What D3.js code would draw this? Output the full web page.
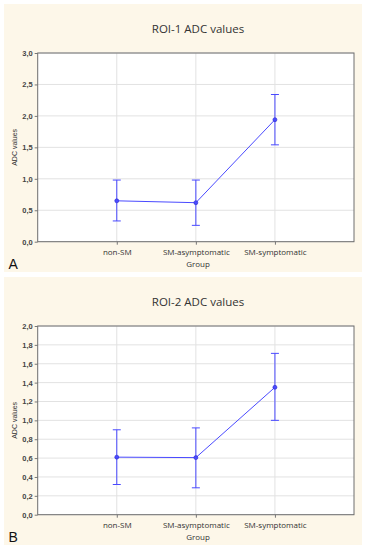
<!DOCTYPE html>
<html>
<head>
<meta charset="utf-8">
<script src="https://cdn.jsdelivr.net/npm/d3@7"></script>
<style>
  body { margin: 0; background: #fff; }
  svg { display: block; }
</style>
</head>
<body>
<div id="chart"></div>
<script>
// data
const groups = ["non-SM", "SM-asymptomatic", "SM-symptomatic"];

const roi1Mean = [0.65, 0.62, 1.94];
const roi1Upper = [0.98, 0.98, 2.34];
const roi1Lower = [0.33, 0.26, 1.54];
const roi1Ticks = [0, 0.5, 1.0, 1.5, 2.0, 2.5, 3.0];

const roi2Mean = [0.61, 0.605, 1.35];
const roi2Upper = [0.90, 0.92, 1.71];
const roi2Lower = [0.32, 0.285, 1.00];
const roi2Ticks = [0, 0.2, 0.4, 0.6, 0.8, 1.0, 1.2, 1.4, 1.6, 1.8, 2.0];

const width = 366;
const height = 550;

const svg = d3.select("#chart")
    .append("svg")
    .attr("width", width)
    .attr("height", height);

const fmt = v => d3.format(".1f")(v).replace(".", ",");
const blue = "#4a4aff";

function drawPanel(top, title, letter, mean, upper, lower, ticks) {
    const g = svg.append("g").attr("transform", `translate(0,${top})`);

    // cream background
    g.append("rect")
        .attr("x", 4).attr("y", 0)
        .attr("width", 358).attr("height", 268)
        .attr("fill", "#fdf7e9");

    const plotTop = 49, plotBottom = 237.7;
    const x = d3.scaleLinear().domain([0, 4]).range([37.7, 354]);
    const y = d3.scaleLinear().domain([0, d3.max(ticks)]).range([plotBottom, plotTop]);

    g.append("rect")
        .attr("x", 37.7).attr("y", plotTop)
        .attr("width", 354 - 37.7).attr("height", plotBottom - plotTop)
        .attr("fill", "#fff");

    // grid
    g.selectAll(".hgrid")
        .data(ticks)
        .enter().append("line")
        .attr("x1", 37.7).attr("x2", 354)
        .attr("y1", d => y(d)).attr("y2", d => y(d))
        .attr("stroke", "#e2e2e2");
    g.selectAll(".vgrid")
        .data(groups)
        .enter().append("line")
        .attr("x1", (d, i) => x(i + 1)).attr("x2", (d, i) => x(i + 1))
        .attr("y1", plotTop).attr("y2", plotBottom)
        .attr("stroke", "#e2e2e2");

    // axes
    const yAxis = d3.axisLeft(y).tickValues(ticks).tickFormat(fmt).tickSize(3).tickPadding(2);
    const ya = g.append("g").attr("transform", "translate(37.7,0)").call(yAxis);
    ya.select(".domain").remove();
    ya.selectAll("line").attr("stroke", "#777");
    ya.selectAll("text")
        .attr("fill", "#444")
        .style("font-family", "Arial, 'Liberation Sans', sans-serif")
        .style("font-size", "7.5px")
        .style("font-weight", "bold");

    const xAxis = d3.axisBottom(x).tickValues([1, 2, 3]).tickFormat(d => groups[d - 1]).tickSize(3).tickPadding(5);
    const xa = g.append("g").attr("transform", `translate(0,${plotBottom})`).call(xAxis);
    xa.select(".domain").remove();
    xa.selectAll("line").attr("stroke", "#777");
    xa.selectAll("text")
        .attr("fill", "#333")
        .style("font-family", "'Open Sans', sans-serif")
        .style("font-size", "8px");

    // plot frame
    g.append("rect")
        .attr("x", 37.7).attr("y", plotTop)
        .attr("width", 354 - 37.7).attr("height", plotBottom - plotTop)
        .attr("fill", "none")
        .attr("stroke", "#6e6e6e")
        .attr("stroke-width", 1);

    // title
    g.append("text")
        .attr("x", 198).attr("y", 29)
        .attr("text-anchor", "middle")
        .attr("fill", "#333")
        .style("font-family", "'Open Sans', sans-serif")
        .style("font-size", "11.5px")
        .text(title);

    // axis labels
    g.append("text")
        .attr("x", 198).attr("y", 263)
        .attr("text-anchor", "middle")
        .attr("fill", "#333")
        .style("font-family", "'Open Sans', sans-serif")
        .style("font-size", "8px")
        .text("Group");

    g.append("text")
        .attr("transform", `translate(16.5,${(plotTop + plotBottom) / 2}) rotate(-90)`)
        .attr("text-anchor", "middle")
        .attr("fill", "#333")
        .style("font-family", "Arial, 'Liberation Sans', sans-serif")
        .style("font-size", "7px")
        .text("ADC values");

    // panel letter
    g.append("text")
        .attr("x", 8.5).attr("y", 265)
        .attr("fill", "#111")
        .style("font-family", "Arial, 'Liberation Sans', sans-serif")
        .style("font-size", "14px")
        .text(letter);

    // error bars
    const bars = g.append("g");
    groups.forEach((grp, i) => {
        const cx = x(i + 1);
        bars.append("line")
            .attr("x1", cx).attr("x2", cx)
            .attr("y1", y(upper[i])).attr("y2", y(lower[i]))
            .attr("stroke", blue).attr("stroke-width", 1);
        [upper[i], lower[i]].forEach(v => {
            bars.append("line")
                .attr("x1", cx - 4).attr("x2", cx + 4)
                .attr("y1", y(v)).attr("y2", y(v))
                .attr("stroke", blue).attr("stroke-width", 1);
        });
    });

    // mean line + points
    const line = d3.line()
        .x((d, i) => x(i + 1))
        .y(d => y(d));
    g.append("path")
        .datum(mean)
        .attr("d", line)
        .attr("fill", "none")
        .attr("stroke", blue)
        .attr("stroke-width", 1);

    g.selectAll(".pt")
        .data(mean)
        .enter().append("circle")
        .attr("cx", (d, i) => x(i + 1))
        .attr("cy", d => y(d))
        .attr("r", 2)
        .attr("fill", blue)
        .attr("stroke", "#2a2ad0")
        .attr("stroke-width", 0.6);
}

drawPanel(4, "ROI-1 ADC values", "A", roi1Mean, roi1Upper, roi1Lower, roi1Ticks);
drawPanel(277, "ROI-2 ADC values", "B", roi2Mean, roi2Upper, roi2Lower, roi2Ticks);
</script>
</body>
</html>
